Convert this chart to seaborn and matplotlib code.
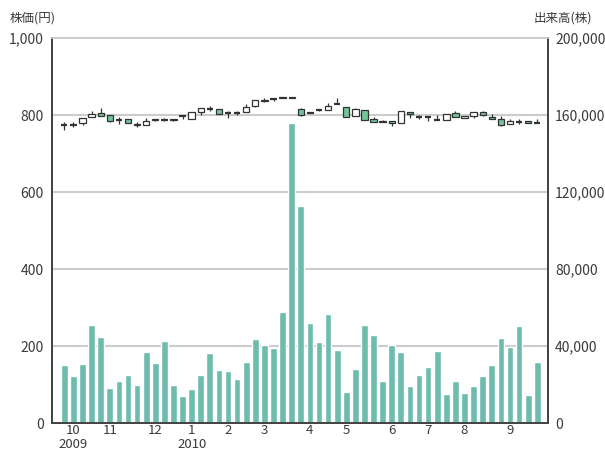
import seaborn as sns
import pandas as pd
import numpy as np
import matplotlib
matplotlib.use("Agg")
import matplotlib.pyplot as plt

# Data (weekly)
opens  = [773, 775, 778, 795, 805, 799, 788, 789, 777, 775, 789, 788, 789, 797, 790, 809, 816, 815,
          804, 806, 807, 824, 838, 842, 846, 846, 816, 809, 813, 813, 828, 822, 798, 813, 790, 785,
          784, 779, 809, 796, 794, 787, 787, 804, 791, 798, 807, 796, 790, 777, 783, 785, 778]
closes = [773, 775, 792, 802, 798, 784, 788, 778, 775, 784, 787, 788, 786, 797, 809, 817, 816, 803,
          804, 806, 822, 839, 836, 842, 844, 844, 799, 805, 813, 824, 828, 796, 815, 787, 781, 783,
          778, 811, 802, 796, 794, 787, 802, 794, 798, 807, 800, 790, 774, 785, 783, 778, 778]
highs  = [782, 782, 792, 811, 819, 800, 795, 789, 783, 793, 790, 792, 790, 797, 809, 817, 823, 815,
          810, 810, 828, 839, 843, 845, 846, 846, 817, 809, 815, 830, 845, 822, 818, 813, 796, 786,
          784, 811, 809, 800, 794, 800, 802, 810, 798, 807, 810, 802, 798, 789, 790, 785, 789]
lows   = [762, 768, 773, 795, 798, 782, 776, 778, 769, 775, 785, 784, 785, 789, 790, 801, 811, 803,
          793, 800, 807, 820, 833, 836, 844, 844, 797, 805, 811, 813, 828, 796, 798, 787, 781, 782,
          772, 779, 791, 790, 785, 787, 787, 794, 791, 791, 797, 790, 772, 777, 776, 778, 778]
volume = [30100, 24300, 30600, 51000, 44700, 18300, 21700, 24900, 19700, 36900, 31100, 42600,
          19700, 13900, 17600, 24900, 36300, 27500, 27000, 22800, 31700, 43700, 40500, 39000,
          57700, 155800, 112500, 52000, 42100, 56700, 37900, 16000, 28000, 51000, 45700, 21700,
          40500, 36900, 19100, 24900, 29000, 37400, 15000, 21700, 15500, 19100, 24300, 30100,
          44200, 39500, 50400, 14400, 31700]
month_pos = [1, 5, 10, 14, 18, 22, 27, 31, 36, 40, 44, 49]
month_labels = ['10', '11', '12', '1', '2', '3', '4', '5', '6', '7', '8', '9']
year_labels = {1: '2009', 14: '2010'}

sns.set_style("white")
plt.rcParams['font.family'] = ['Noto Sans CJK JP', 'DejaVu Sans']

df = pd.DataFrame({"week": np.arange(len(volume)), "volume": volume,
                   "open": opens, "close": closes, "high": highs, "low": lows})

txt = '#3a3a3a'
fig = plt.figure(figsize=(6.05, 4.53), dpi=100)
ax = fig.add_axes([0.086, 0.0662, 0.8198, 0.8499])
ax2 = ax.twinx()

# volume bars
sns.barplot(data=df, x="week", y="volume", ax=ax2, color="#6dbcad", saturation=1,
            width=0.74, native_scale=True)

# candlesticks
green = "#72c49a"
ax.vlines(df["week"], df["low"], df["high"], color="#333333", lw=0.9, zorder=3)
for _, r in df.iterrows():
    lo, hi = min(r["open"], r["close"]), max(r["open"], r["close"])
    fc = "white" if r["close"] > r["open"] else green
    if hi - lo < 1.5:
        ax.hlines((lo + hi) / 2, r["week"] - 0.35, r["week"] + 0.35, color="#333333", lw=1.6, zorder=4)
    else:
        ax.bar(r["week"], hi - lo, bottom=lo, width=0.7, color=fc, edgecolor="#333333",
               linewidth=0.9, zorder=4)

ax.set_ylim(0, 1000)
ax2.set_ylim(0, 200000)
ax.set_xlim(-1.35, 53.18)
ax2.set_xlim(-1.35, 53.18)

ax.set_yticks([0, 200, 400, 600, 800, 1000])
ax.set_yticklabels(['0', '200', '400', '600', '800', '1,000'])
ax2.set_yticks([0, 40000, 80000, 120000, 160000, 200000])
ax2.set_yticklabels(['0', '40,000', '80,000', '120,000', '160,000', '200,000'])
for y in [200, 400, 600, 800]:
    ax.axhline(y, color="#cccccc", lw=1.5, zorder=0)

ax.set_xticks(month_pos)
ax.set_xticklabels(month_labels)
ax2.set_xticks(month_pos)
ax2.set_xticklabels(month_labels)
ax.tick_params(axis='both', length=0, labelsize=10, colors=txt, pad=6)
ax2.tick_params(axis='both', length=0, labelsize=10, colors=txt, pad=5)
ax.tick_params(axis='x', pad=1, labelsize=9.5)
ax2.tick_params(axis='x', pad=1, labelsize=9.5)
ax2.set_xlabel("")
ax2.set_ylabel("")
ax.set_xlabel("")
for p, lab in year_labels.items():
    ax.text(p, -0.038, lab, transform=ax.get_xaxis_transform(), ha='center', va='top',
            fontsize=9.5, color=txt)

for a in (ax, ax2):
    a.spines['left'].set_color('#444444')
    a.spines['right'].set_color('#444444')
    a.spines['bottom'].set_color('#444444')
    a.spines['left'].set_linewidth(1.4)
    a.spines['right'].set_linewidth(1.4)
    a.spines['bottom'].set_linewidth(1.4)
    a.spines['top'].set_color('#cccccc')
    a.spines['top'].set_linewidth(1.2)

fig.text(10 / 605, 1 - 18 / 453, "株価(円)", fontsize=9, color=txt, va='center', ha='left')
fig.text(592 / 605, 1 - 18 / 453, "出来高(株)", fontsize=9, color=txt, va='center', ha='right')

fig.savefig("out.png", dpi=100)
